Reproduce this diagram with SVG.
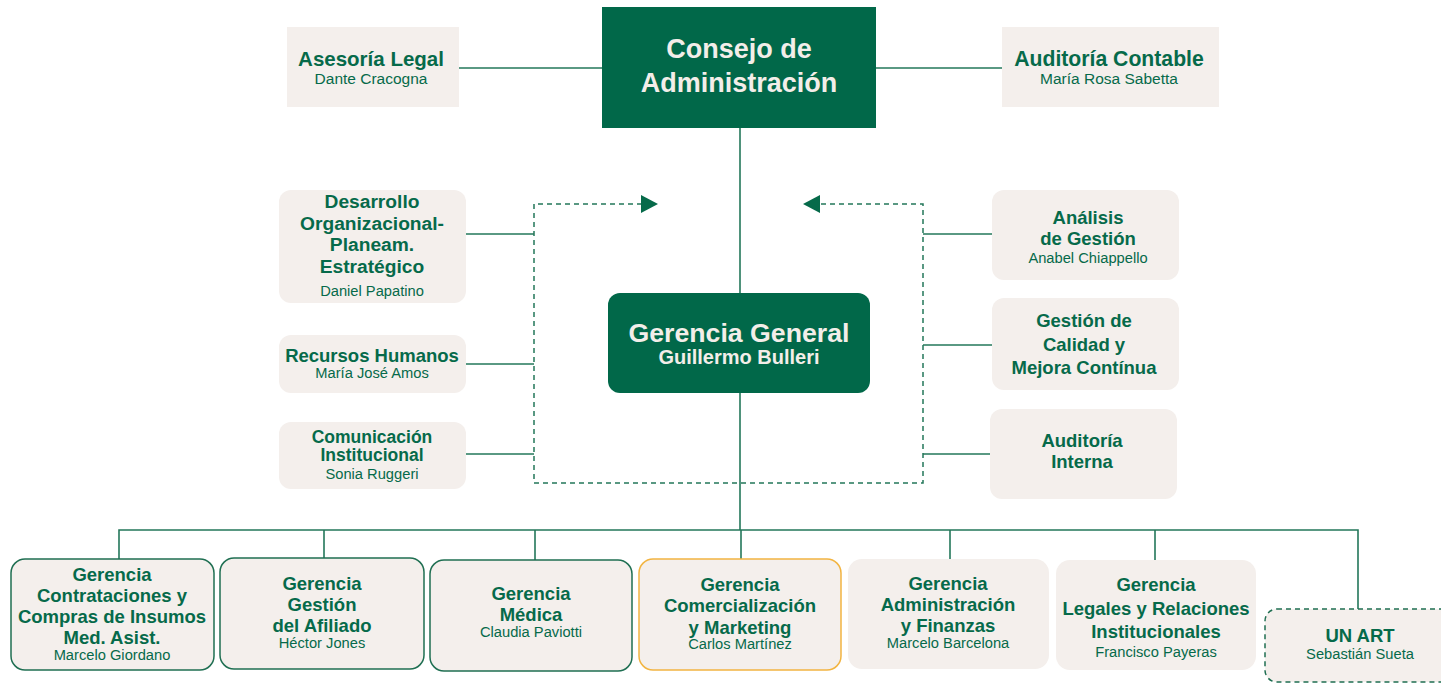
<svg xmlns="http://www.w3.org/2000/svg" width="1441" height="684" viewBox="0 0 1441 684">
<defs>
<style>
text{font-family:"Liberation Sans",Arial,sans-serif;text-anchor:middle;fill:#066a4a}
.t{font-weight:bold;font-size:18.5px}
.t2{font-weight:bold;font-size:17.5px}
.t3{font-weight:bold;font-size:19.2px}
.s{font-size:14.7px}
.tt{font-weight:bold;font-size:20.5px}
.ts{font-size:15.5px}
.big{font-weight:bold;font-size:27px;fill:#f3eee9}
.gg{font-weight:bold;font-size:26.7px;fill:#f3eee9}
.gg2{font-weight:bold;font-size:20px;fill:#f3eee9}
.box{fill:#f4efec}
.bb{fill:#f4efec;stroke:#1f6f52;stroke-width:1.5}
.ob{fill:#f4efec;stroke:#f2b441;stroke-width:1.5}
.db{fill:#f4efec;stroke:#1f6f52;stroke-width:1.5;stroke-dasharray:5 4}
.dark{fill:#016849}
.ln{fill:none;stroke:#23775a;stroke-width:1.6}
.dl{fill:none;stroke:#23775a;stroke-width:1.5;stroke-dasharray:5 4}
</style>
</defs>
<rect width="1441" height="684" fill="#ffffff"/>
<g id="connectors">
<line class="ln" x1="459" y1="68" x2="602" y2="68"/>
<line class="ln" x1="876" y1="68" x2="1002" y2="68"/>
<line class="ln" x1="740" y1="128" x2="740" y2="293"/>
<line class="ln" x1="740" y1="393" x2="740" y2="530"/>
<polyline class="ln" points="119,559 119,530 1358,530 1358,609"/>
<line class="ln" x1="324" y1="530" x2="324" y2="558"/>
<line class="ln" x1="535" y1="530" x2="535" y2="560"/>
<line class="ln" x1="741" y1="530" x2="741" y2="559"/>
<line class="ln" x1="950" y1="530" x2="950" y2="559"/>
<line class="ln" x1="1155" y1="530" x2="1155" y2="560"/>
<line class="ln" x1="466" y1="234" x2="534" y2="234"/>
<line class="ln" x1="466" y1="364" x2="534" y2="364"/>
<line class="ln" x1="466" y1="454" x2="534" y2="454"/>
<line class="ln" x1="923" y1="234" x2="992" y2="234"/>
<line class="ln" x1="923" y1="345" x2="992" y2="345"/>
<line class="ln" x1="923" y1="454" x2="990" y2="454"/>
<polyline class="dl" points="642,204 534,204 534,483 923,483 923,204 819,204"/>
<polygon points="641,195 658,204 641,213" fill="#066a4a"/>
<polygon points="820,195 803,204 820,213" fill="#066a4a"/>
</g>
<g id="consejo">
<rect class="dark" x="602" y="7" width="274" height="121"/>
<text class="big" x="739" y="58">Consejo de</text>
<text class="big" x="739" y="92">Administración</text>
</g>
<g id="asesoria">
<rect class="box" x="287" y="27" width="172" height="80"/>
<text class="tt" x="371" y="66">Asesoría Legal</text>
<text class="ts" x="371" y="84">Dante Cracogna</text>
</g>
<g id="auditoria-contable">
<rect class="box" x="1002" y="27" width="217" height="80"/>
<text class="tt" x="1109" y="66" style="font-size:21.2px">Auditoría Contable</text>
<text class="ts" x="1109" y="84">María Rosa Sabetta</text>
</g>
<g id="gerencia-general">
<rect class="dark" x="608" y="293" width="262" height="100" rx="12"/>
<text class="gg" x="739" y="342">Gerencia General</text>
<text class="gg2" x="739" y="364">Guillermo Bulleri</text>
</g>
<g id="desarrollo">
<rect class="box" x="279" y="190" width="187" height="113" rx="12"/>
<text class="t3" x="372" y="208">Desarrollo</text>
<text class="t3" x="372" y="230">Organizacional-</text>
<text class="t3" x="372" y="251">Planeam.</text>
<text class="t3" x="372" y="273">Estratégico</text>
<text class="s" x="372" y="296">Daniel Papatino</text>
</g>
<g id="rrhh">
<rect class="box" x="279" y="335" width="187" height="58" rx="12"/>
<text class="t" x="372" y="362">Recursos Humanos</text>
<text class="s" x="372" y="378">María José Amos</text>
</g>
<g id="comunicacion">
<rect class="box" x="279" y="422" width="187" height="67" rx="12"/>
<text class="t2" x="372" y="443">Comunicación</text>
<text class="t2" x="372" y="461">Institucional</text>
<text class="s" x="372" y="479">Sonia Ruggeri</text>
</g>
<g id="analisis">
<rect class="box" x="992" y="190" width="187" height="90" rx="12"/>
<text class="t" x="1088" y="224">Análisis</text>
<text class="t" x="1088" y="245">de Gestión</text>
<text class="s" x="1088" y="263">Anabel Chiappello</text>
</g>
<g id="calidad">
<rect class="box" x="992" y="298" width="187" height="92" rx="12"/>
<text class="t" x="1084" y="327">Gestión de</text>
<text class="t" x="1084" y="351">Calidad y</text>
<text class="t" x="1084" y="374">Mejora Contínua</text>
</g>
<g id="auditoria-interna">
<rect class="box" x="990" y="409" width="187" height="90" rx="12"/>
<text class="t" x="1082" y="447">Auditoría</text>
<text class="t" x="1082" y="468">Interna</text>
</g>
<g id="g-contrataciones">
<rect class="bb" x="11" y="559" width="203" height="111" rx="14"/>
<text class="t" x="112" y="581">Gerencia</text>
<text class="t" x="112" y="602">Contrataciones y</text>
<text class="t" x="112" y="623">Compras de Insumos</text>
<text class="t" x="112" y="644">Med. Asist.</text>
<text class="s" x="112" y="660">Marcelo Giordano</text>
</g>
<g id="g-afiliado">
<rect class="bb" x="220" y="558" width="204" height="111" rx="14"/>
<text class="t" x="322" y="590">Gerencia</text>
<text class="t" x="322" y="611">Gestión</text>
<text class="t" x="322" y="632">del Afiliado</text>
<text class="s" x="322" y="648">Héctor Jones</text>
</g>
<g id="g-medica">
<rect class="bb" x="430" y="560" width="202" height="111" rx="14"/>
<text class="t" x="531" y="600">Gerencia</text>
<text class="t" x="531" y="621">Médica</text>
<text class="s" x="531" y="637">Claudia Paviotti</text>
</g>
<g id="g-comercial">
<rect class="ob" x="639" y="559" width="202" height="111" rx="14"/>
<text class="t" x="740" y="591">Gerencia</text>
<text class="t" x="740" y="612">Comercialización</text>
<text class="t" x="740" y="634">y Marketing</text>
<text class="s" x="740" y="649">Carlos Martínez</text>
</g>
<g id="g-administracion">
<rect class="box" x="848" y="559" width="201" height="110" rx="14"/>
<text class="t" x="948" y="590">Gerencia</text>
<text class="t" x="948" y="611">Administración</text>
<text class="t" x="948" y="632">y Finanzas</text>
<text class="s" x="948" y="648">Marcelo Barcelona</text>
</g>
<g id="g-legales">
<rect class="box" x="1056" y="560" width="200" height="110" rx="14"/>
<text class="t" x="1156" y="591">Gerencia</text>
<text class="t" x="1156" y="615">Legales y Relaciones</text>
<text class="t" x="1156" y="638">Institucionales</text>
<text class="s" x="1156" y="657">Francisco Payeras</text>
</g>
<g id="un-art">
<rect class="db" x="1265" y="609" width="190" height="73" rx="12"/>
<text class="t" x="1360" y="642">UN ART</text>
<text class="s" x="1360" y="659">Sebastián Sueta</text>
</g>
</svg>
